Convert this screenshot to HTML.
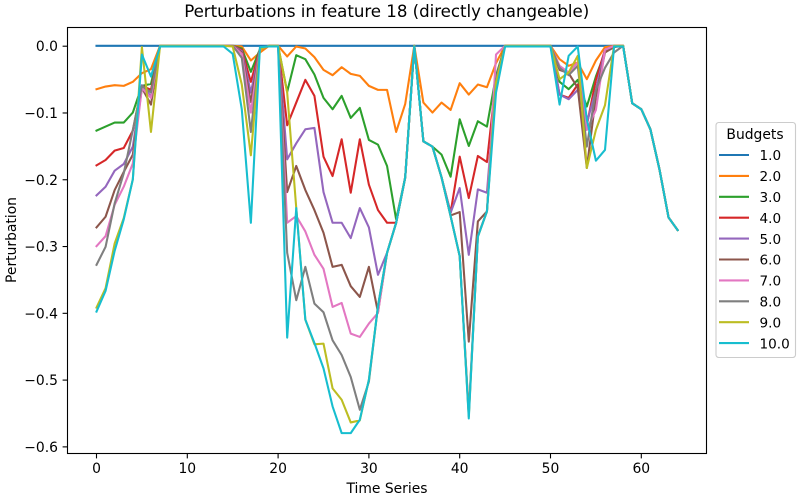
<!DOCTYPE html>
<html>
<head>
<meta charset="utf-8">
<title>Perturbations in feature 18</title>
<style>
html,body{margin:0;padding:0;background:#fff;}
svg{display:block;font-family:"DejaVu Sans","Liberation Sans",sans-serif;fill:#000;}
</style>
</head>
<body>
<svg id="chart" xmlns="http://www.w3.org/2000/svg" width="800" height="500" viewBox="0 0 800 500">
<rect x="0" y="0" width="800" height="500" fill="#fff"/>
<text x="386.7" y="17" font-size="16.67" text-anchor="middle" textLength="405" lengthAdjust="spacing">Perturbations in feature 18 (directly changeable)</text>
<text x="387" y="493" font-size="13.89" text-anchor="middle">Time Series</text>
<text x="16" y="240" font-size="13.89" text-anchor="middle" transform="rotate(-90 16 240)">Perturbation</text>
<g id="series"></g>
<g id="axes"></g>
<g id="legend"></g>
</svg>
<script>
const xTicks = [0, 10, 20, 30, 40, 50, 60];
const yTicks = [0, -0.1, -0.2, -0.3, -0.4, -0.5, -0.6];
const yTickLabels = ["0.0", "\u22120.1", "\u22120.2", "\u22120.3", "\u22120.4", "\u22120.5", "\u22120.6"];
const budgets = ["1.0", "2.0", "3.0", "4.0", "5.0", "6.0", "7.0", "8.0", "9.0", "10.0"];
const colors = ["#1f77b4", "#ff7f0e", "#2ca02c", "#d62728", "#9467bd", "#8c564b", "#e377c2", "#7f7f7f", "#bcbd22", "#17becf"];

const budget1 = [0,0,0,0,0,0,0,0,0,0,0,0,0,0,0,0,0,0,0,0,0,0,0,0,0,0,0,0,0,0,0,0,0,0,0,0,0,0,0,0,0,0,0,0,0,0,0,0,0,0,0,0,0,0,0,0,0,0,0,-0.086,-0.095,-0.125,-0.185,-0.257,-0.276];
const budget2 = [-0.065,-0.061,-0.059,-0.06,-0.054,-0.041,-0.035,0,0,0,0,0,0,0,0,0,-0.001,-0.022,-0.01,0,0,-0.016,-0.001,-0.004,-0.017,-0.036,-0.044,-0.032,-0.042,-0.045,-0.06,-0.066,-0.066,-0.129,-0.087,0,-0.085,-0.1,-0.085,-0.096,-0.056,-0.073,-0.058,-0.062,-0.026,0,0,0,0,0,0,-0.02,-0.03,-0.025,-0.05,-0.022,-0.002,0,0,-0.086,-0.095,-0.125,-0.185,-0.257,-0.276];
const budget3 = [-0.127,-0.121,-0.115,-0.115,-0.1,-0.06,-0.057,0,0,0,0,0,0,0,0,0,-0.004,-0.039,-0.005,0,0,-0.069,-0.014,-0.02,-0.043,-0.078,-0.095,-0.075,-0.108,-0.093,-0.141,-0.148,-0.18,-0.26,-0.197,0,-0.143,-0.151,-0.163,-0.196,-0.11,-0.15,-0.113,-0.121,-0.045,0,0,0,0,0,0,-0.054,-0.065,-0.051,-0.091,-0.046,-0.01,0,0,-0.086,-0.095,-0.125,-0.185,-0.257,-0.276];
const budget4 = [-0.179,-0.171,-0.157,-0.153,-0.127,-0.06,-0.066,0,0,0,0,0,0,0,0,0,-0.006,-0.054,-0.005,0,0,-0.119,-0.085,-0.051,-0.075,-0.166,-0.195,-0.14,-0.22,-0.14,-0.208,-0.246,-0.265,-0.265,-0.197,0,-0.143,-0.151,-0.197,-0.25,-0.166,-0.228,-0.165,-0.174,-0.05,0,0,0,0,0,0,-0.073,-0.078,-0.058,-0.119,-0.051,-0.006,0,0,-0.086,-0.095,-0.125,-0.185,-0.257,-0.276];
const budget5 = [-0.224,-0.211,-0.187,-0.177,-0.151,-0.059,-0.076,0,0,0,0,0,0,0,0,0,-0.008,-0.07,-0.005,0,0,-0.17,-0.146,-0.125,-0.123,-0.219,-0.265,-0.265,-0.288,-0.243,-0.272,-0.343,-0.31,-0.265,-0.197,0,-0.143,-0.151,-0.197,-0.25,-0.213,-0.313,-0.215,-0.22,-0.05,0,0,0,0,0,0,-0.073,-0.08,-0.066,-0.116,-0.066,-0.006,0,0,-0.086,-0.095,-0.125,-0.185,-0.257,-0.276];
const budget6 = [-0.272,-0.256,-0.216,-0.189,-0.163,-0.063,-0.088,0,0,0,0,0,0,0,0,0,-0.01,-0.084,-0.005,0,0,-0.219,-0.18,-0.216,-0.246,-0.28,-0.331,-0.328,-0.36,-0.376,-0.331,-0.399,-0.31,-0.265,-0.197,0,-0.143,-0.151,-0.197,-0.254,-0.249,-0.443,-0.263,-0.248,-0.05,0,0,0,0,0,0,-0.036,-0.041,-0.063,-0.183,-0.076,-0.01,-0.002,0,-0.086,-0.095,-0.125,-0.185,-0.257,-0.276];
const budget7 = [-0.3,-0.285,-0.238,-0.211,-0.176,-0.063,-0.078,0,0,0,0,0,0,0,0,0,-0.012,-0.1,-0.005,0,0,-0.265,-0.255,-0.278,-0.313,-0.334,-0.391,-0.385,-0.431,-0.436,-0.416,-0.4,-0.31,-0.265,-0.197,0,-0.143,-0.151,-0.197,-0.255,-0.315,-0.55,-0.285,-0.248,-0.013,0,0,0,0,0,0,-0.03,-0.04,-0.025,-0.126,-0.096,-0.006,0,0,-0.086,-0.095,-0.125,-0.185,-0.257,-0.276];
const budget8 = [-0.328,-0.301,-0.236,-0.191,-0.126,-0.06,-0.07,0,0,0,0,0,0,0,0,0,-0.018,-0.129,-0.005,0,0,-0.31,-0.381,-0.331,-0.386,-0.399,-0.441,-0.463,-0.496,-0.545,-0.503,-0.39,-0.31,-0.265,-0.197,0,-0.143,-0.151,-0.197,-0.255,-0.315,-0.552,-0.285,-0.248,-0.05,0,0,0,0,0,0,-0.033,-0.044,-0.03,-0.151,-0.066,-0.033,-0.01,0,-0.086,-0.095,-0.125,-0.185,-0.257,-0.276];
const budget9 = [-0.392,-0.363,-0.296,-0.258,-0.2,-0.002,-0.129,0,0,0,0,0,0,0,0,-0.001,-0.058,-0.164,-0.005,0,0,-0.07,-0.243,-0.41,-0.447,-0.446,-0.513,-0.53,-0.564,-0.561,-0.5,-0.39,-0.31,-0.265,-0.197,0,-0.143,-0.151,-0.197,-0.255,-0.315,-0.555,-0.286,-0.248,-0.055,0,0,0,0,0,0,-0.05,-0.04,-0.015,-0.183,-0.126,-0.089,0,0,-0.086,-0.095,-0.125,-0.185,-0.257,-0.276];
const budget10 = [-0.398,-0.367,-0.307,-0.26,-0.2,-0.013,-0.046,-0.001,-0.001,-0.001,-0.001,-0.001,-0.001,-0.001,-0.001,-0.012,-0.095,-0.265,-0.002,-0.001,-0.001,-0.437,-0.243,-0.41,-0.445,-0.483,-0.54,-0.58,-0.58,-0.56,-0.5,-0.39,-0.31,-0.265,-0.197,-0.001,-0.143,-0.151,-0.197,-0.255,-0.315,-0.558,-0.286,-0.248,-0.07,-0.001,-0.001,-0.001,-0.001,-0.001,-0.001,-0.088,-0.015,-0.001,-0.11,-0.172,-0.156,-0.001,-0.001,-0.086,-0.095,-0.125,-0.185,-0.257,-0.276];
const allSeries = [budget1, budget2, budget3, budget4, budget5, budget6, budget7, budget8, budget9, budget10];

const NS = "http://www.w3.org/2000/svg";
const xScale = function (v) { return 96.5 + v * 9.08; };
const yScale = function (v) { return 45.8 - v * 667.8; };
const mk = function (tag, attrs, parent) {
  const el = document.createElementNS(NS, tag);
  for (const k in attrs) el.setAttribute(k, attrs[k]);
  parent.appendChild(el);
  return el;
};

const seriesG = document.getElementById("series");
allSeries.forEach(function (vals, s) {
  const pts = vals.map(function (v, i) { return xScale(i).toFixed(2) + "," + yScale(v).toFixed(2); }).join(" ");
  const line = mk("polyline", {points: pts, fill: "none", stroke: colors[s], "stroke-width": 2.08, "stroke-linejoin": "round", "stroke-linecap": "square"}, seriesG);
  
  
});

const axesG = document.getElementById("axes");
const frame = mk("rect", {x: 67.5, y: 27.5, width: 639, height: 426, fill: "none", stroke: "#000", "stroke-width": 1.1}, axesG);


xTicks.forEach(function (t) {
  const x = xScale(t);
  const tick = mk("line", {x1: x, x2: x, y1: 453.5, y2: 458.4, stroke: "#000", "stroke-width": 1.1}, axesG);
  
  
  const label = mk("text", {x: x, y: 473, "font-size": 13.89, "text-anchor": "middle"}, axesG);
  label.textContent = String(t);
  
  
});
yTicks.forEach(function (t, i) {
  const y = yScale(t) + 0.4;
  const tick = mk("line", {x1: 62.6, x2: 67.5, y1: y, y2: y, stroke: "#000", "stroke-width": 1.1}, axesG);
  
  
  const label = mk("text", {x: 58, y: y + 5, "font-size": 13.89, "text-anchor": "end"}, axesG);
  label.textContent = yTickLabels[i];
  
  
});

const legendG = document.getElementById("legend");
const box = mk("rect", {x: 716, y: 122.5, width: 79.5, height: 235, rx: 2.8, fill: "#fff", "fill-opacity": 0.8, stroke: "#ccc", "stroke-width": 1.1}, legendG);


const legendTitle = mk("text", {x: 755, y: 139, "font-size": 13.89, "text-anchor": "middle"}, legendG);
legendTitle.textContent = "Budgets";


budgets.forEach(function (b, i) {
  const y = 155 + i * 20.9;
  const swatch = mk("line", {x1: 719, x2: 749, y1: y, y2: y, stroke: colors[i], "stroke-width": 2.08}, legendG);
  
  
  const label = mk("text", {x: 759.5, y: y + 5.2, "font-size": 13.6}, legendG);
  label.textContent = b;
  
  
});
</script>
</body>
</html>
